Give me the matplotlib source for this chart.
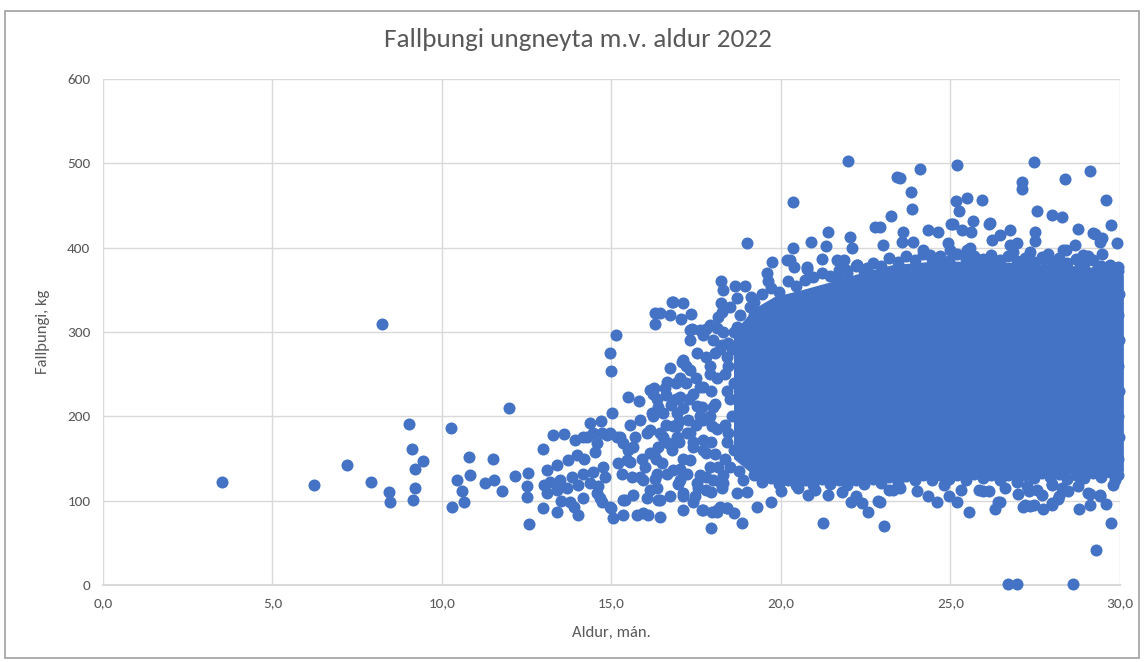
import matplotlib
matplotlib.use('Agg')
import matplotlib.pyplot as plt
from matplotlib import font_manager
from matplotlib.patches import Rectangle
from matplotlib.ticker import FuncFormatter

# font: Calibri look-alike if there is one
installed = {f.name for f in font_manager.fontManager.ttflist}
FONT = next(f for f in ['Carlito', 'Liberation Sans Narrow', 'Lato', 'DejaVu Sans'] if f in installed)
plt.rcParams['font.family'] = [FONT, 'DejaVu Sans']

BLUE = '#4472C4'
GREY = '#595959'

# individually visible points (age in months, carcass weight kg)
age = [3.5, 6.23, 7.2, 7.9, 8.22, 8.44, 8.47, 9.02, 9.12, 9.43, 9.2, 9.2, 9.16,
       10.27, 10.8, 10.83, 10.43, 10.6, 10.66, 10.3, 11.97, 11.5, 11.27, 11.53, 11.76,
       12.15, 12.55, 12.5, 12.5, 12.57, 12.97, 13.27, 13.6,
       # 13 - 19
       15.12, 14.96, 15.0, 15.5, 15.8, 16.28, 16.43, 16.28, 16.8, 17.1, 16.73, 17.05,
       17.35, 17.37, 17.94, 18.86, 18.2, 15.02, 14.37, 14.68, 13.92, 14.17, 14.46, 14.71,
       14.96, 15.55, 15.84, 16.19, 16.38, 16.23, 15.05, 15.35, 15.74, 15.94, 16.43, 14.02,
       12.99, 13.38, 14.66, 14.96, 15.4, 15.64, 17.12, 17.41, 17.71, 17.96, 18.2, 17.32,
       18.44, 17.8, 18.69, 18.22, 18.25, 18.22, 18.3, 18.64, 18.94, 19.13, 19.58, 19.63,
       19.75, 17.7, 16.82,
       13.09, 13.38, 13.73, 13.97, 13.19, 13.48, 13.83, 14.17, 14.46, 14.76, 13.09, 13.38,
       13.68, 14.02, 14.37, 14.61, 13.77, 14.17, 14.56, 14.71, 15.0, 14.27, 14.56, 14.86,
       15.15, 15.35, 16.04, 15.55, 15.89, 16.14, 16.38, 16.67, 16.92, 15.3, 15.6, 15.94,
       16.28, 16.63, 17.02, 17.32, 15.35, 16.04, 16.38, 16.73, 17.12, 17.46, 16.09, 17.12,
       18.1, 18.4, 16.14, 16.33, 16.63, 17.02, 17.32, 16.73, 17.12, 17.51, 16.23, 16.53,
       16.77, 17.12, 17.51, 17.71, 17.61, 17.91, 17.32, 16.14, 16.53, 16.92, 17.32, 17.71,
       16.33, 17.02, 17.51, 17.8, 18.69, 18.89, 18.6, 17.07, 16.58, 16.24, 17.02, 17.41,
       17.71, 17.66, 16.92, 15.45, 15.25, 15.64, 16.43, 16.82, 17.22, 16.24, 17.41, 17.8,
       16.82, 17.22, 15.84, 16.33, 16.14, 16.43, 17.8, 18.29, 18.0, 17.61, 17.27, 17.96,
       17.95, 18.0, 17.9, 18.05, 17.95, 18.1, 17.9, 18.05, 17.95, 18.1, 17.9, 18.05,
       18.0, 18.1, 18.15, 18.3, 18.25, 18.3, 18.25,
       13.0, 13.5, 13.9, 14.2, 14.5, 14.8, 15.2, 15.5, 15.7, 16.0, 16.3, 16.6,
       16.9, 17.2, 17.5, 17.6, 17.0,
       18.5, 18.6, 18.45, 18.55, 18.5, 18.6, 18.45, 18.55, 18.6, 18.8, 18.75, 18.9,
       19.0, 19.1, 19.2, 18.35, 18.4, 18.35, 18.4, 18.35, 18.4,
       16.5, 16.8, 17.1, 17.4, 17.7, 16.6, 16.9, 17.2, 17.5, 17.8, 17.0, 17.3,
       17.6, 17.9, 18.2, 18.5, 18.7, 18.9, 19.1, 16.95, 17.55, 18.15,
       # top edge of the main cloud
       20.27, 20.76, 21.2, 21.64, 21.86, 21.93, 21.69, 22.24, 22.53, 23.02, 22.92, 23.24,
       23.43, 22.78, 21.4, 22.04, 22.1, 20.89, 20.35, 21.32, 20.35, 21.99, 20.17, 20.37,
       20.78, 22.25, 19.0, 23.51, 24.1, 23.85, 23.87, 25.18, 25.16, 25.26, 25.5, 25.94,
       25.08, 25.65, 26.14, 25.33, 25.62, 26.75, 26.46, 26.22, 27.12, 27.12, 27.47, 28.38,
       29.13, 29.6, 27.54, 28.0, 28.28, 28.77, 29.74, 29.9, 29.26, 29.46, 29.46, 27.5,
       27.5, 27.34, 27.89, 28.67, 24.35, 24.64, 24.94, 25.58, 26.75, 23.61, 23.9, 28.42,
       29.06, 29.95, 25.03, 26.17, 26.95, 26.85, 28.33, 28.92, 29.21, 29.41, 23.56, 24.2,
       24.4, 24.69, 24.99, 25.48, 25.87, 26.26, 27.25, 27.74, 28.13, 28.82, 29.31, 29.7,
       19.2, 19.45, 19.7, 19.95, 20.2, 20.45, 20.7, 20.95, 21.2, 21.45, 21.7, 21.95,
       22.2, 22.45, 22.7, 22.95, 23.2, 23.45, 23.7, 23.95, 24.2, 24.45, 24.7, 24.95,
       25.2, 25.45, 25.7, 25.95, 26.2, 26.45, 26.7, 26.95, 27.2, 27.45, 27.7, 27.95,
       28.2, 28.45, 28.7, 28.95, 29.2, 29.45, 29.7, 29.95,
       # bottom edge
       21.25, 23.05, 17.66, 18.1, 18.4, 19.28, 19.72, 20.8, 21.4, 22.08, 22.38, 22.58,
       22.85, 23.3, 24.35, 24.6, 24.97, 25.18, 25.3, 25.55, 25.97, 26.31, 26.46, 27.15,
       27.34, 27.32, 27.69, 27.73, 27.99, 28.18, 27.99, 28.48, 28.77, 28.79, 29.12, 29.12,
       29.41, 29.6, 29.73, 29.28, 26.71, 26.95, 28.6, 23.5, 29.9, 23.2, 25.85, 26.14,
       26.39, 26.95, 27.25, 27.54, 27.2, 27.45, 28.0, 28.2, 28.0, 29.06, 29.4, 22.92,
       19.0, 20.0, 20.5, 21.0, 21.8, 22.2, 24.0, 24.8, 26.6, 27.0, 28.3, 29.8, 29.85,
       19.2, 19.45, 19.7, 19.95, 20.2, 20.45, 20.7, 20.95, 21.2, 21.45, 21.7, 21.95,
       22.2, 22.45, 22.7, 22.95, 23.2, 23.45, 23.7, 23.95, 24.2, 24.45, 24.7, 24.95,
       25.2, 25.45, 25.7, 25.95, 26.2, 26.45, 26.7, 26.95, 27.2, 27.45, 27.7, 27.95,
       28.2, 28.45, 28.7, 28.95, 29.2, 29.45, 29.7, 29.95,
       # right edge
       29.95, 29.97, 29.93, 29.98, 29.95, 29.97, 29.94, 29.96]
weight = [122, 119, 142, 122, 310, 110, 98, 191, 161, 147, 138, 115, 101,
          186, 152, 131, 125, 112, 99, 92.5, 210, 150, 121, 124, 111,
          129, 133, 117, 104, 72, 161, 178, 179,
          297, 275, 254, 223, 218, 323, 323, 309, 335, 334, 320, 315,
          321, 303, 68, 74, 122, 204, 192, 194, 172, 176, 180, 180,
          180, 190, 196, 204, 211, 227, 79, 83, 83, 85, 81, 83,
          91, 87, 103, 93, 101, 107, 105, 99, 89, 87, 93, 290,
          287, 304, 306, 334, 324, 360, 350, 354, 355, 342, 370, 360,
          383, 296, 336,
          136, 142, 148, 154, 122, 124, 128, 132, 134, 140, 109, 113,
          115, 119, 121, 117, 99, 103, 109, 99, 91, 176, 168, 178,
          176, 168, 180, 146, 150, 156, 164, 168, 176, 132, 128, 124,
          126, 132, 138, 148, 101, 103, 101, 105, 109, 105, 83, 89,
          89, 91, 231, 221, 241, 245, 255, 257, 267, 275, 200, 204,
          213, 210, 212, 196, 302, 308, 302, 184, 176, 188, 180, 172,
          115, 124, 121, 128, 109, 124, 85, 265, 233, 233, 223, 227,
          235, 211, 204, 148, 176, 164, 180, 188, 180, 156, 164, 156,
          136, 132, 128, 132, 113, 101, 113, 121, 211, 200, 196, 188,
          110, 125, 140, 155, 170, 185, 200, 215, 230, 245, 260, 275,
          290, 305, 318, 300, 285, 130, 115,
          118, 100, 92, 150, 158, 128, 145, 160, 175, 140, 150, 190,
          220, 240, 190, 130, 170,
          140, 160, 180, 200, 220, 240, 260, 280, 300, 320, 135, 150,
          290, 310, 320, 150, 170, 190, 230, 250, 270,
          145, 160, 150, 170, 160, 225, 240, 260, 245, 270, 195, 220,
          235, 250, 280, 330, 340, 300, 330, 120, 115, 140,
          385, 375, 387, 385, 385, 374, 362, 380, 376, 403, 425, 438,
          484, 425, 419, 413, 399, 407, 400, 402, 454, 503, 385, 377,
          377, 380, 406, 483, 493, 466, 446, 498, 455, 443, 459, 456,
          428, 432, 428, 421, 419, 421, 415, 409, 478, 470, 501, 481,
          491, 457, 443, 439, 436, 422, 427, 405, 416, 412, 392, 419,
          408, 395, 392, 403, 421, 419, 405, 399, 403, 419, 407, 397,
          390, 377, 428, 429, 405, 395, 397, 391, 417, 407, 407, 397,
          391, 385, 397, 397, 385, 383, 381, 387, 381, 381, 373, 369,
          335, 345, 352, 348, 360, 355, 362, 365, 370, 366, 373, 370,
          378, 372, 382, 378, 388, 383, 390, 385, 392, 386, 390, 384,
          392, 387, 390, 386, 391, 385, 390, 384, 388, 383, 389, 385,
          388, 382, 387, 381, 385, 378, 380, 372,
          74, 70, 89, 87, 91, 93, 99, 107, 107, 98, 97, 87,
          100, 113, 105, 98, 105, 98, 113, 86, 111, 90, 99, 92,
          94, 111, 107, 90, 95, 102, 120, 111, 117, 90, 108, 95,
          105, 96, 74, 41, 0.8, 0.8, 0.8, 115, 138, 113, 113, 111,
          99, 122, 117, 113, 95, 95, 119, 105, 97, 109, 107, 99,
          110, 112, 115, 113, 110, 105, 112, 118, 115, 108, 115, 118, 125,
          130, 122, 127, 120, 125, 118, 124, 119, 126, 120, 124, 118,
          125, 120, 126, 121, 128, 122, 129, 124, 130, 125, 131, 126,
          130, 124, 132, 127, 131, 125, 130, 126, 131, 127, 133, 128,
          132, 126, 131, 127, 133, 128, 134, 130,
          150, 175, 200, 230, 260, 290, 320, 345]

# outline of the solid core of the cloud (where markers overlap completely)
core_age = [18.6, 19.2, 19.8, 20.6, 21.5, 22.5, 23.3, 24.5, 25.5, 26.5, 27.5, 28.5, 29.5, 30.1]
core_hi = [300, 328, 342, 350, 360, 372, 380, 384, 384, 383, 381, 379, 376, 368]
core_lo = [150, 130, 124, 122, 122, 123, 125, 128, 130, 130, 130, 132, 132, 135]

fig = plt.figure(figsize=(11.44, 6.62), dpi=100)
ax = fig.add_axes([0.090, 0.1163, 0.889, 0.7644])

ax.fill_between(core_age, core_lo, core_hi, color=BLUE, lw=0, clip_on=False, zorder=3)
ax.scatter(age, weight, s=75, color=BLUE, linewidths=0, clip_on=False, zorder=4)

ax.set_xlim(0, 30)
ax.set_ylim(0, 600)
ax.set_xticks(range(0, 31, 5))
ax.set_yticks(range(0, 601, 100))
ax.xaxis.set_major_formatter(FuncFormatter(lambda v, p: f'{v:.1f}'.replace('.', ',')))
ax.grid(True, color='#D9D9D9', lw=1, zorder=0)
ax.set_axisbelow(True)
for side in ['top', 'right', 'left']:
    ax.spines[side].set_visible(False)
ax.spines['bottom'].set_color('#D9D9D9')
ax.spines['bottom'].set_linewidth(1.5)
ax.tick_params(length=0, colors=GREY, labelsize=11, pad=9)

ax.set_xlabel('Aldur, mán.', color=GREY, fontsize=12, labelpad=12)
ax.set_ylabel('Fallþungi, kg', color=GREY, fontsize=12, labelpad=12)
fig.text(0.505, 0.94, 'Fallþungi ungneyta m.v. aldur 2022', ha='center', va='center',
         color=GREY, fontsize=19.5)

# chart frame
fig.patches.append(Rectangle((5 / 1144, 4 / 662), 1134 / 1144, 647 / 662, transform=fig.transFigure,
                             fill=False, edgecolor='#A0A0A0', lw=1.2))

fig.savefig('out.png', dpi=100)
